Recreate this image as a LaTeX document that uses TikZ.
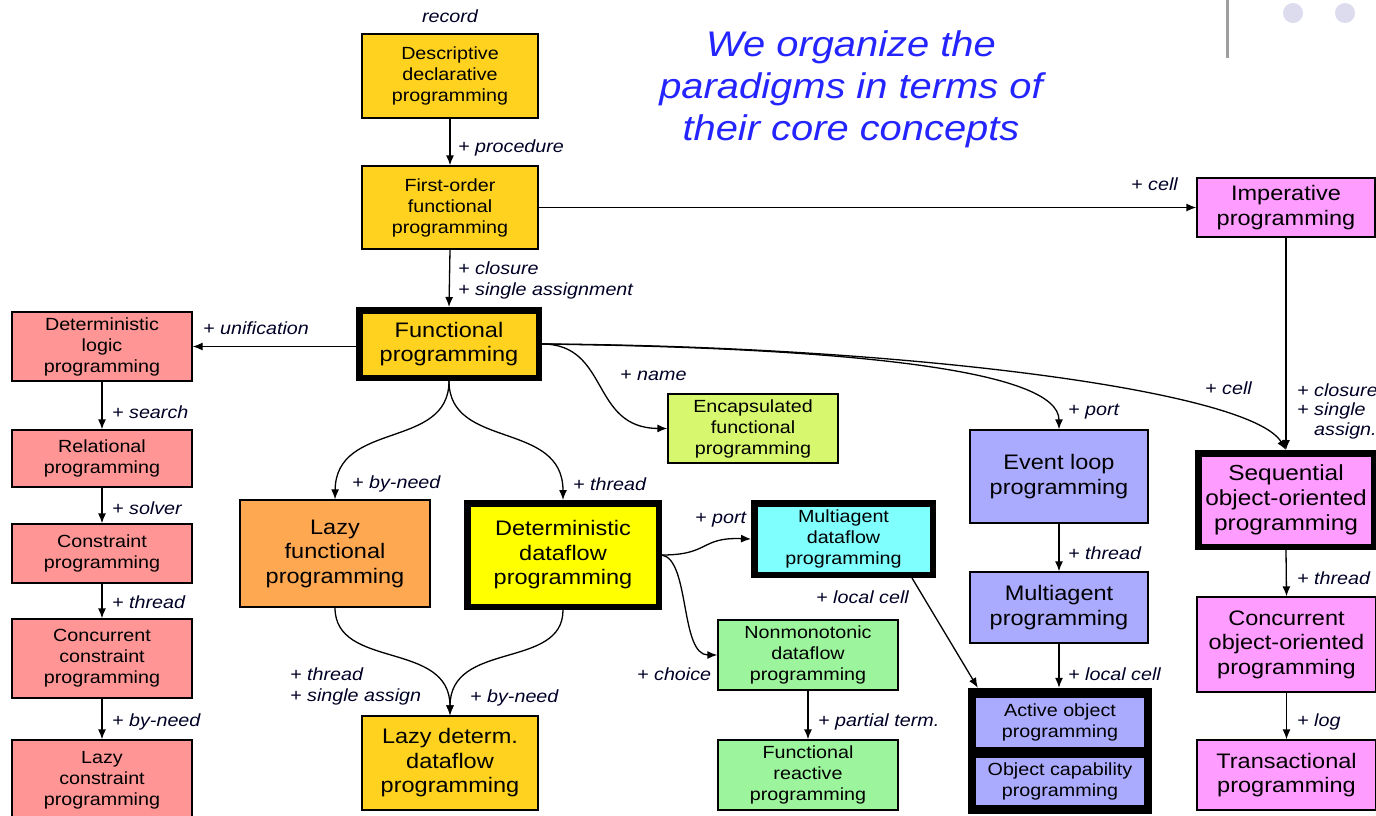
\documentclass[tikz,border=0pt]{standalone}
\usepackage{fontspec}
\setmainfont{Liberation Sans}[FakeStretch=1.12]
\usetikzlibrary{arrows.meta,calc}

\definecolor{cGold}{HTML}{FFD21F}
\definecolor{cSalmon}{HTML}{FF9595}
\definecolor{cOrchid}{HTML}{FF9CFF}
\definecolor{cLavender}{HTML}{AAAAFF}
\definecolor{cLime}{HTML}{D6F76E}
\definecolor{cOrange}{HTML}{FFA852}
\definecolor{cAqua}{HTML}{80FFFF}
\definecolor{cMint}{HTML}{9CF59C}
\definecolor{cYellow}{HTML}{FFFF00}
\definecolor{cTitle}{HTML}{2424FF}
\definecolor{cDot}{HTML}{DCDCEE}

\tikzset{
  box/.style={draw=black, line width=1.3, inner sep=0, align=center, text=black},
  thick box/.style={box, line width=6.5},
  small/.style={font=\fontsize{17.6}{21}\selectfont},
  large/.style={font=\fontsize{21}{24.5}\selectfont},
  lbl/.style={font=\fontsize{17.6}{21}\itshape\selectfont, anchor=west, inner sep=0, align=left, text=black!85!blue},
  conn/.style={-{Latex[length=10pt,width=8pt]}, line width=1.3, black},
}

\begin{document}
\begin{tikzpicture}[x=1pt,y=-1pt]
\useasboundingbox (0,0) rectangle (1376,816);
\fill[white] (0,0) rectangle (1376,816);
\clip (0,0) rectangle (1376,816);

% slide decoration
\draw[line width=3, gray!75] (1227,0) -- (1227,58);
\fill[cDot] (1293,13) circle[radius=10];
\fill[cDot] (1345,13) circle[radius=10];

% title
\node[font=\fontsize{35.6}{42}\itshape\selectfont, text=cTitle, align=center] (title) at (851,89)
  {We organize the\\paradigms in terms of\\their core concepts};

% central column
\node[lbl, anchor=center] (lrecord) at (450,16) {record};
\node[box, small, fill=cGold, minimum width=176, minimum height=84] (desc) at (450,76)
  {Descriptive\\declarative\\programming};
\node[box, small, fill=cGold, minimum width=176, minimum height=83] (first) at (450,207.5)
  {First-order\\functional\\programming};
\node[thick box, large, fill=cGold, minimum width=179.5, minimum height=67.5] (fp) at (449,344)
  {Functional\\programming};

% logic / constraint column
\node[box, small, fill=cSalmon, minimum width=180, minimum height=69] (dlp) at (102,346.5)
  {Deterministic\\logic\\programming};
\node[box, small, fill=cSalmon, minimum width=180, minimum height=57] (rel) at (102,458.5)
  {Relational\\programming};
\node[box, small, fill=cSalmon, minimum width=180, minimum height=59] (con) at (102,553.5)
  {Constraint\\programming};
\node[box, small, fill=cSalmon, minimum width=180, minimum height=79] (ccp) at (102,658.5)
  {Concurrent\\constraint\\programming};
\node[box, small, fill=cSalmon, minimum width=180, minimum height=80] (lcp) at (102,780)
  {Lazy\\constraint\\programming};

% object-oriented column
\node[box, large, fill=cOrchid, minimum width=178, minimum height=59] (imp) at (1286,207.5)
  {Imperative\\programming};
\node[thick box, large, fill=cOrchid, minimum width=175.5, minimum height=93.5,
      font=\fontsize{21.8}{25}\selectfont] (seq) at (1286,500)
  {Sequential\\object-oriented\\programming};
\node[box, large, fill=cOrchid, minimum width=179, minimum height=95] (coo) at (1286.5,644.5)
  {Concurrent\\object-oriented\\programming};
\node[box, large, fill=cOrchid, minimum width=179, minimum height=70] (trans) at (1286.5,775)
  {Transactional\\programming};

% message passing column
\node[box, small, fill=cLime, minimum width=170, minimum height=69] (enc) at (753,428.5)
  {Encapsulated\\functional\\programming};
\node[box, large, fill=cLavender, minimum width=178, minimum height=93] (ev) at (1059,476.5)
  {Event loop\\programming};
\node[box, large, fill=cLavender, minimum width=178, minimum height=71] (ma) at (1059,607.5)
  {Multiagent\\programming};
\node[fill=black, inner sep=0, minimum width=184, minimum height=126] (actgrp) at (1060,751) {};
\node[box, small, fill=cLavender, minimum width=170, minimum height=51] (act) at (1060,722.5)
  {Active object\\programming};
\node[box, small, fill=cLavender, minimum width=170, minimum height=49] (ocap) at (1060,781.5)
  {Object capability\\programming};

% dataflow family
\node[box, large, fill=cOrange, minimum width=190, minimum height=107] (lf) at (335,553.5)
  {Lazy\\functional\\programming};
\node[thick box, large, fill=cYellow, minimum width=191.5, minimum height=103.5] (ddf) at (563,555)
  {Deterministic\\dataflow\\programming};
\node[thick box, small, fill=cAqua, minimum width=178.5, minimum height=71.5] (mdf) at (843.5,539)
  {Multiagent\\dataflow\\programming};
\node[box, small, fill=cMint, minimum width=180, minimum height=70] (nm) at (808,655)
  {Nonmonotonic\\dataflow\\programming};
\node[box, small, fill=cMint, minimum width=180, minimum height=70] (frp) at (808,775)
  {Functional\\reactive\\programming};
\node[box, large, fill=cGold, minimum width=176, minimum height=94] (ldd) at (450,763)
  {Lazy determ.\\dataflow\\programming};

% straight connectors
\draw[conn] (desc.south) -- (first.north);
\draw[conn] (first.south) -- (fp.north);
\draw[conn] (first.east) -- (imp.west);
\draw[conn] (fp.west |- dlp.east) -- (dlp.east);
\draw[conn] (dlp.south) -- (rel.north);
\draw[conn] (rel.south) -- (con.north);
\draw[conn] (con.south) -- (ccp.north);
\draw[conn] (ccp.south) -- (lcp.north);
\draw[conn] (imp.south) -- (seq.north);
\draw[conn] (seq.south) -- (coo.north);
\draw[conn] (coo.south) -- (trans.north);
\draw[conn] (ev.south) -- (ma.north);
\draw[conn] (ma.south) -- (ma.south |- actgrp.north);
\draw[conn] (nm.south) -- (frp.north);
\draw[conn] ($(mdf.south east)+(-24,0)$) -- ($(actgrp.north west)+(10,0)$);

% curved connectors
\draw[conn] (fp.east) .. controls (900,346) and (1250,390) .. (seq.north);
\draw[conn] (fp.east) .. controls (850,348) and (1059,370) .. (ev.north);
\draw[conn] (fp.east) .. controls (610,344) and (590,428) .. (enc.west);
\draw[conn] (fp.south) .. controls (449,450) and (336,420) .. (lf.north);
\draw[conn] (fp.south) .. controls (449,450) and (563,420) .. (ddf.north);
\draw[conn] (lf.south) .. controls (335,670) and (450,640) .. (ldd.north);
\draw[conn] (ddf.south) .. controls (563,670) and (450,640) .. (ldd.north);
\draw[conn] (ddf.east) .. controls (710,555) and (700,537) .. (mdf.west);
\draw[conn] (ddf.east) .. controls (690,560) and (680,655) .. (nm.west);

% connector labels
\node[lbl] (lproc) at (458,148) {+ procedure};
\node[lbl] (lclos) at (458,280.5) {+ closure\\+ single assignment};
\node[lbl] (lunif) at (203,328) {+ unification};
\node[lbl] (lsearch) at (112,412) {+ search};
\node[lbl] (lsolver) at (112,508) {+ solver};
\node[lbl] (lthreadA) at (112,602) {+ thread};
\node[lbl] (lneedA) at (112,722) {+ by-need};
\node[lbl] (lcellA) at (1131,184) {+ cell};
\node[lbl, font=\fontsize{17.6}{19.5}\itshape\selectfont] (lclosB) at (1297,411)
  {+ closure\\+ single\\\phantom{+ }assign.};
\node[lbl] (lcellB) at (1205,388) {+ cell};
\node[lbl] (lthreadB) at (1297,578) {+ thread};
\node[lbl] (llog) at (1297,722) {+ log};
\node[lbl] (lname) at (620,376) {+ name};
\node[lbl] (lportA) at (1068,412) {+ port};
\node[lbl] (lthreadC) at (1068,553) {+ thread};
\node[lbl] (llocalA) at (1068,674) {+ local cell};
\node[lbl] (llocalB) at (816,597) {+ local cell};
\node[lbl] (lneedB) at (352,484) {+ by-need};
\node[lbl] (lthreadD) at (573,484) {+ thread};
\node[lbl] (lportB) at (695,520) {+ port};
\node[lbl] (lchoice) at (637,674) {+ choice};
\node[lbl] (lpartial) at (818,722) {+ partial term.};
\node[lbl] (lthreadE) at (290,686) {+ thread\\+ single assign};
\node[lbl] (lneedC) at (470,698) {+ by-need};
\end{tikzpicture}
\end{document}
